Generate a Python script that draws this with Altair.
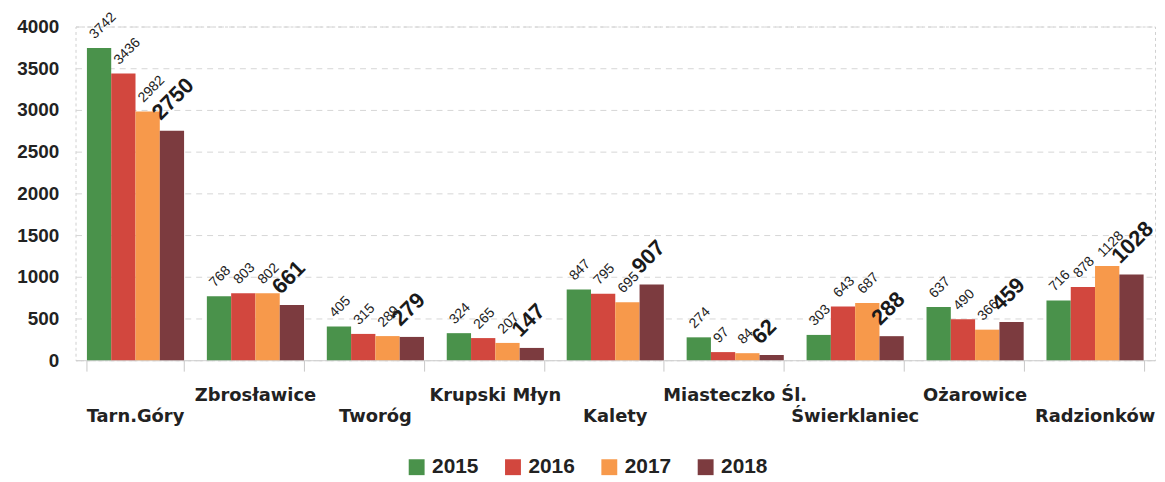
import altair as alt
import pandas as pd

gminy = ["Tarn.Góry", "Zbrosławice", "Tworóg", "Krupski Młyn", "Kalety",
         "Miasteczko Śl.", "Świerklaniec", "Ożarowice", "Radzionków"]
lata = ["2015", "2016", "2017", "2018"]
v2015 = [3742, 768, 405, 324, 847, 274, 303, 637, 716]
v2016 = [3436, 803, 315, 265, 795, 97, 643, 490, 878]
v2017 = [2982, 802, 289, 207, 695, 84, 687, 366, 1128]
v2018 = [2750, 661, 279, 147, 907, 62, 288, 459, 1028]
kolory = ["#4a924b", "#d2473e", "#f7994b", "#7c3b3f"]
y_ticks = [0, 500, 1000, 1500, 2000, 2500, 3000, 3500, 4000]

rows = []
for rok, vals in zip(lata, [v2015, v2016, v2017, v2018]):
    for g, v in zip(gminy, vals):
        rows.append({"gmina": g, "rok": rok, "wartosc": v})
df = pd.DataFrame(rows)
cats = pd.DataFrame({"gmina": gminy, "rzad": [i % 2 for i in range(len(gminy))]})

W, H = 1087, 336
FONT = "Liberation Sans"

x_enc = alt.X("gmina:N", sort=gminy,
              scale=alt.Scale(paddingInner=0.19, paddingOuter=0.095),
              axis=alt.Axis(title=None, labels=False, tickBand="extent", tickSize=11,
                            tickColor="#c8c8c8", domainColor="#d0d0d0", grid=False))
xoff = alt.XOffset("rok:N", sort=lata, scale=alt.Scale(domain=lata, paddingInner=0, paddingOuter=0))
y_enc = alt.Y("wartosc:Q", scale=alt.Scale(domain=[0, 4000], nice=False),
              axis=alt.Axis(title=None, values=y_ticks, format="d", labelFont=FONT,
                            labelFontSize=19, labelFontWeight="bold", labelColor="#222",
                            ticks=False, labelPadding=17, domain=False,
                            gridColor="#d6d6d6", gridDash=[6, 5], gridWidth=1))

base = alt.Chart(df)

bars = base.mark_bar().encode(
    x=x_enc, xOffset=xoff, y=y_enc,
    color=alt.Color("rok:N", sort=lata,
                    scale=alt.Scale(domain=lata, range=kolory),
                    legend=alt.Legend(title=None, orient="none", direction="horizontal",
                                      columns=4, legendX=333, legendY=433,
                                      symbolType="square", symbolSize=256,
                                      symbolStrokeWidth=0, labelFont=FONT,
                                      labelFontSize=21, labelFontWeight="bold",
                                      labelColor="#222", labelOffset=5,
                                      columnPadding=24)),
)

small = base.transform_filter(alt.datum.rok != "2018").mark_text(
    angle=315, align="left", baseline="alphabetic", font=FONT, fontSize=14,
    color="#222", dx=3, dy=-9
).encode(x=alt.X("gmina:N", sort=gminy), xOffset=xoff, y="wartosc:Q", text="wartosc:Q")

big = base.transform_filter(alt.datum.rok == "2018").mark_text(
    angle=315, align="left", baseline="alphabetic", font=FONT, fontSize=22,
    fontWeight="bold", color="#1a1a1a", dx=-1, dy=-15
).encode(x=alt.X("gmina:N", sort=gminy), xOffset=xoff, y="wartosc:Q", text="wartosc:Q")

lab_up = alt.Chart(cats).transform_filter(alt.datum.rzad == 1).mark_text(
    font="DejaVu Sans", fontSize=18, fontWeight="bold", color="#222",
    baseline="alphabetic", align="center"
).encode(x=alt.X("gmina:N", sort=gminy), y=alt.value(H + 41), text="gmina:N")

lab_down = alt.Chart(cats).transform_filter(alt.datum.rzad == 0).mark_text(
    font="DejaVu Sans", fontSize=18, fontWeight="bold", color="#222",
    baseline="alphabetic", align="center"
).encode(x=alt.X("gmina:N", sort=gminy), y=alt.value(H + 62), text="gmina:N")

chart = alt.layer(bars, small, big, lab_up, lab_down).properties(
    width=W, height=H,
    autosize=alt.AutoSizeParams(type="none"),
    padding={"left": 68, "top": 17, "right": 2, "bottom": 119},
    background="white",
).configure_view(stroke="#d0d0d0", strokeDash=[3, 3])

chart.save("out.html", embed_options={"renderer": "svg", "actions": False})
